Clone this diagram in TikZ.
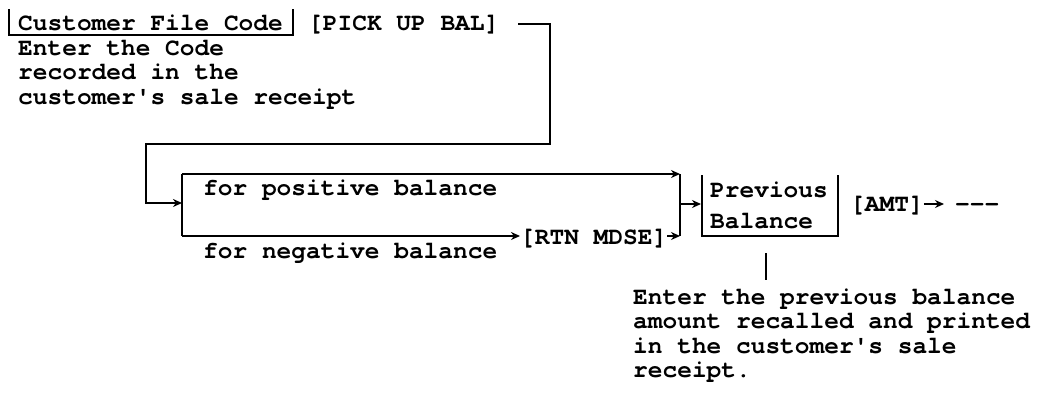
\documentclass[tikz,border=0pt]{standalone}
\usepackage{fontspec}
\newfontfamily\tw{texgyrecursor}[Extension=.otf, UprightFont=*-regular, BoldFont=*-bold]
\usetikzlibrary{arrows.meta}
\tikzset{
  txt/.style={anchor=base west, inner sep=0pt, font=\tw\bfseries\fontsize{24.5}{24.5}\selectfont},
  ln/.style={line width=2pt},
  arr/.style={line width=2pt, -{Stealth[length=9pt,width=8pt]}},
}
\begin{document}
\begin{tikzpicture}[x=1pt,y=-1pt]
\useasboundingbox (0,0) rectangle (1046,399);
% top-left
\node[txt] (cfc) at (18,30) {Customer File Code};
\draw[ln] (9,9) -- (9,35) -- (293,35) -- (293,9);
\node[txt] (pick) at (308,30) {[PICK UP BAL]};
\node[txt] (e1) at (18,55) {Enter the Code};
\node[txt] (e2) at (18,79.5) {recorded in the};
\node[txt] (e3) at (18,104) {customer's sale receipt};
\coordinate (c1) at (518,24);
\coordinate (c2) at (550,24);
\coordinate (c3) at (550,144);
\coordinate (c4) at (146,144);
\coordinate (c5) at (146,203);
\coordinate (br) at (182,203);
\draw[arr] (c1) -- (c2) -- (c3) -- (c4) -- (c5) -- (br);
% branches
\coordinate (bt) at (182,174);
\coordinate (bb) at (182,236);
\coordinate (jt) at (680,174);
\coordinate (jb) at (680,236);
\coordinate (jm) at (680,204);
\draw[ln] (bt) -- (bb);
\draw[arr] (bt) -- (jt);
\draw[ln] (jt) -- (jb);
\node[txt] (pos) at (203,195) {for positive balance};
\node[txt] (neg) at (203,258) {for negative balance};
\node[txt] (rtn) at (520,244) {[RTN MDSE]};
\draw[arr] (bb) -- (rtn.west |- bb);
\draw[arr] (rtn.east |- jb) -- (jb);
% box
\node[txt] (prev) at (710,197) {Previous};
\node[txt] (bal) at (710,228) {Balance};
\draw[ln] (702,175) -- (702,236) -- (838,236) -- (838,175);
\coordinate (boxl) at (701,204);
\draw[arr] (jm) -- (boxl);
\node[txt] (amt) at (850,211) {[AMT]};
\coordinate (a2) at (944,204);
\draw[arr] (amt.east |- a2) -- (a2);
\node[txt] (dash) at (955,211) {---};
% note
\coordinate (v1) at (766,253);
\coordinate (v2) at (766,280);
\draw[ln] (v1) -- (v2);
\node[txt] (n1) at (633,304) {Enter the previous balance};
\node[txt] (n2) at (633,328.5) {amount recalled and printed};
\node[txt] (n3) at (633,353) {in the customer's sale};
\node[txt] (n4) at (633,377.5) {receipt.};
\end{tikzpicture}
\end{document}
